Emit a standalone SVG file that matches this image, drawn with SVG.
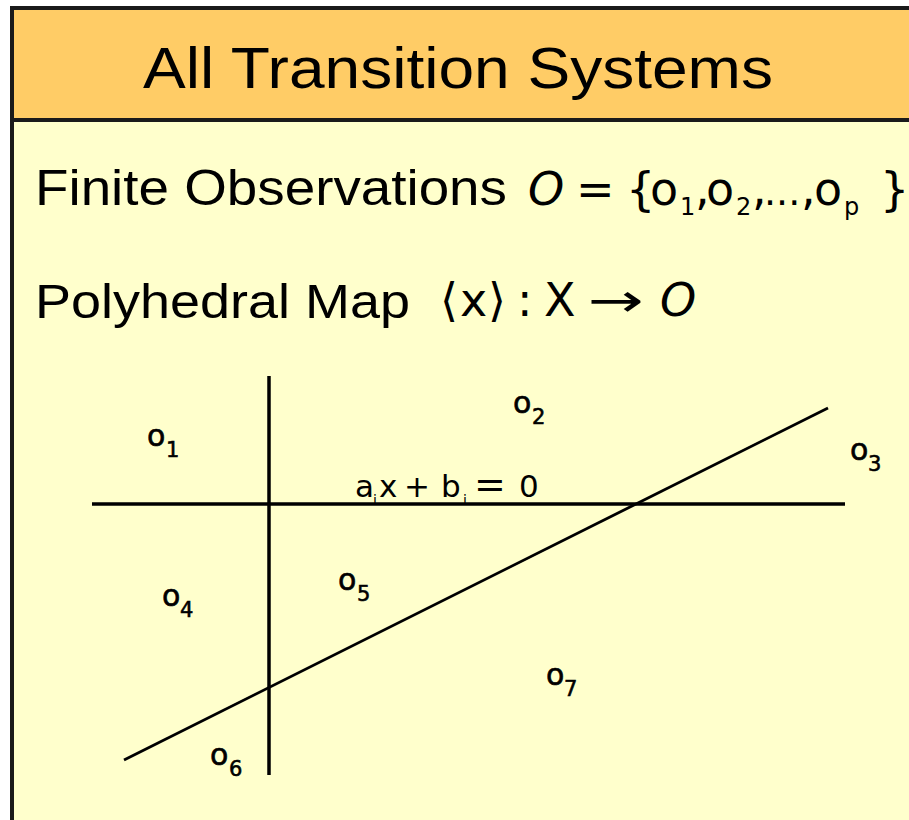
<svg xmlns="http://www.w3.org/2000/svg" width="909" height="820" viewBox="0 0 909 820">
<style>
.t{font-family:"Liberation Sans",Arial,sans-serif;fill:#000}
.m{font-family:"DejaVu Sans","Liberation Sans",sans-serif;fill:#000}
.ln{stroke:#000;fill:none}
.s{font-size:24px}
.lb{stroke:#000;stroke-width:0.6}
</style>
<rect x="0" y="0" width="909" height="820" fill="#fff"/>
<g id="header">
<rect x="12" y="8" width="905" height="112" fill="#FFCC66" stroke="#1a1a1a" stroke-width="4"/>
<text class="t" x="143" y="88" font-size="58" textLength="630" lengthAdjust="spacingAndGlyphs">All Transition Systems</text>
</g>
<g id="body">
<rect x="12" y="120" width="905" height="710" fill="#FFFFCC" stroke="#1a1a1a" stroke-width="4"/>
<text class="t" x="35" y="205" font-size="50" textLength="472" lengthAdjust="spacingAndGlyphs">Finite Observations</text>
<text class="m" y="205" font-size="46"><tspan x="528" font-style="italic">O</tspan><tspan x="576">=</tspan><tspan x="626">{</tspan><tspan x="650">o</tspan><tspan x="680" class="s" dy="10">1</tspan><tspan x="695" dy="-10">,</tspan><tspan x="706">o</tspan><tspan x="736" class="s" dy="10">2</tspan><tspan x="752" dy="-10">,</tspan><tspan x="764" font-size="38">...</tspan><tspan x="801">,</tspan><tspan x="814">o</tspan><tspan x="844" class="s" dy="10">p</tspan><tspan x="880" dy="-10">}</tspan></text>
<text class="t" x="35" y="318" font-size="48" textLength="375" lengthAdjust="spacingAndGlyphs">Polyhedral  Map</text>
<text class="m" y="316" font-size="46"><tspan x="440">⟨</tspan><tspan x="460">x</tspan><tspan x="488">⟩</tspan><tspan x="517">:</tspan><tspan x="544">X</tspan><tspan x="660" font-style="italic">O</tspan></text>
<text class="m" x="588" y="316" font-size="46" textLength="56" lengthAdjust="spacingAndGlyphs">→</text>
</g>
<g id="connectors">
<line class="ln" x1="269" y1="376" x2="269" y2="775" stroke-width="3.5"/>
<line class="ln" x1="92" y1="504" x2="845" y2="504" stroke-width="3.5"/>
<line class="ln" x1="124" y1="760" x2="828" y2="408" stroke-width="2.8"/>
</g>
<g id="labels" class="m" font-size="30">
<g id="o1"><text class="lb" x="147" y="446">o<tspan x="166" font-size="21" dy="11">1</tspan></text></g>
<g id="o2"><text class="lb" x="513" y="413">o<tspan x="532" font-size="21" dy="11">2</tspan></text></g>
<g id="o3"><text class="lb" x="850" y="460">o<tspan x="868" font-size="21" dy="11">3</tspan></text></g>
<g id="o4"><text class="lb" x="162" y="606">o<tspan x="180" font-size="21" dy="11">4</tspan></text></g>
<g id="o5"><text class="lb" x="338" y="590">o<tspan x="357" font-size="21" dy="11">5</tspan></text></g>
<g id="o6"><text class="lb" x="210" y="765">o<tspan x="229" font-size="21" dy="11">6</tspan></text></g>
<g id="o7"><text class="lb" x="546" y="685">o<tspan x="564" font-size="21" dy="11">7</tspan></text></g>
<g id="eq"><text y="497" font-size="31"><tspan x="355">a</tspan><tspan x="373" font-size="14" dy="8">i</tspan><tspan x="379" dy="-8">x</tspan><tspan x="404">+</tspan><tspan x="441">b</tspan><tspan x="463" font-size="14" dy="8">i</tspan><tspan x="474" dy="-8" font-size="38">=</tspan><tspan x="519">0</tspan></text></g>
</g>
</svg>
